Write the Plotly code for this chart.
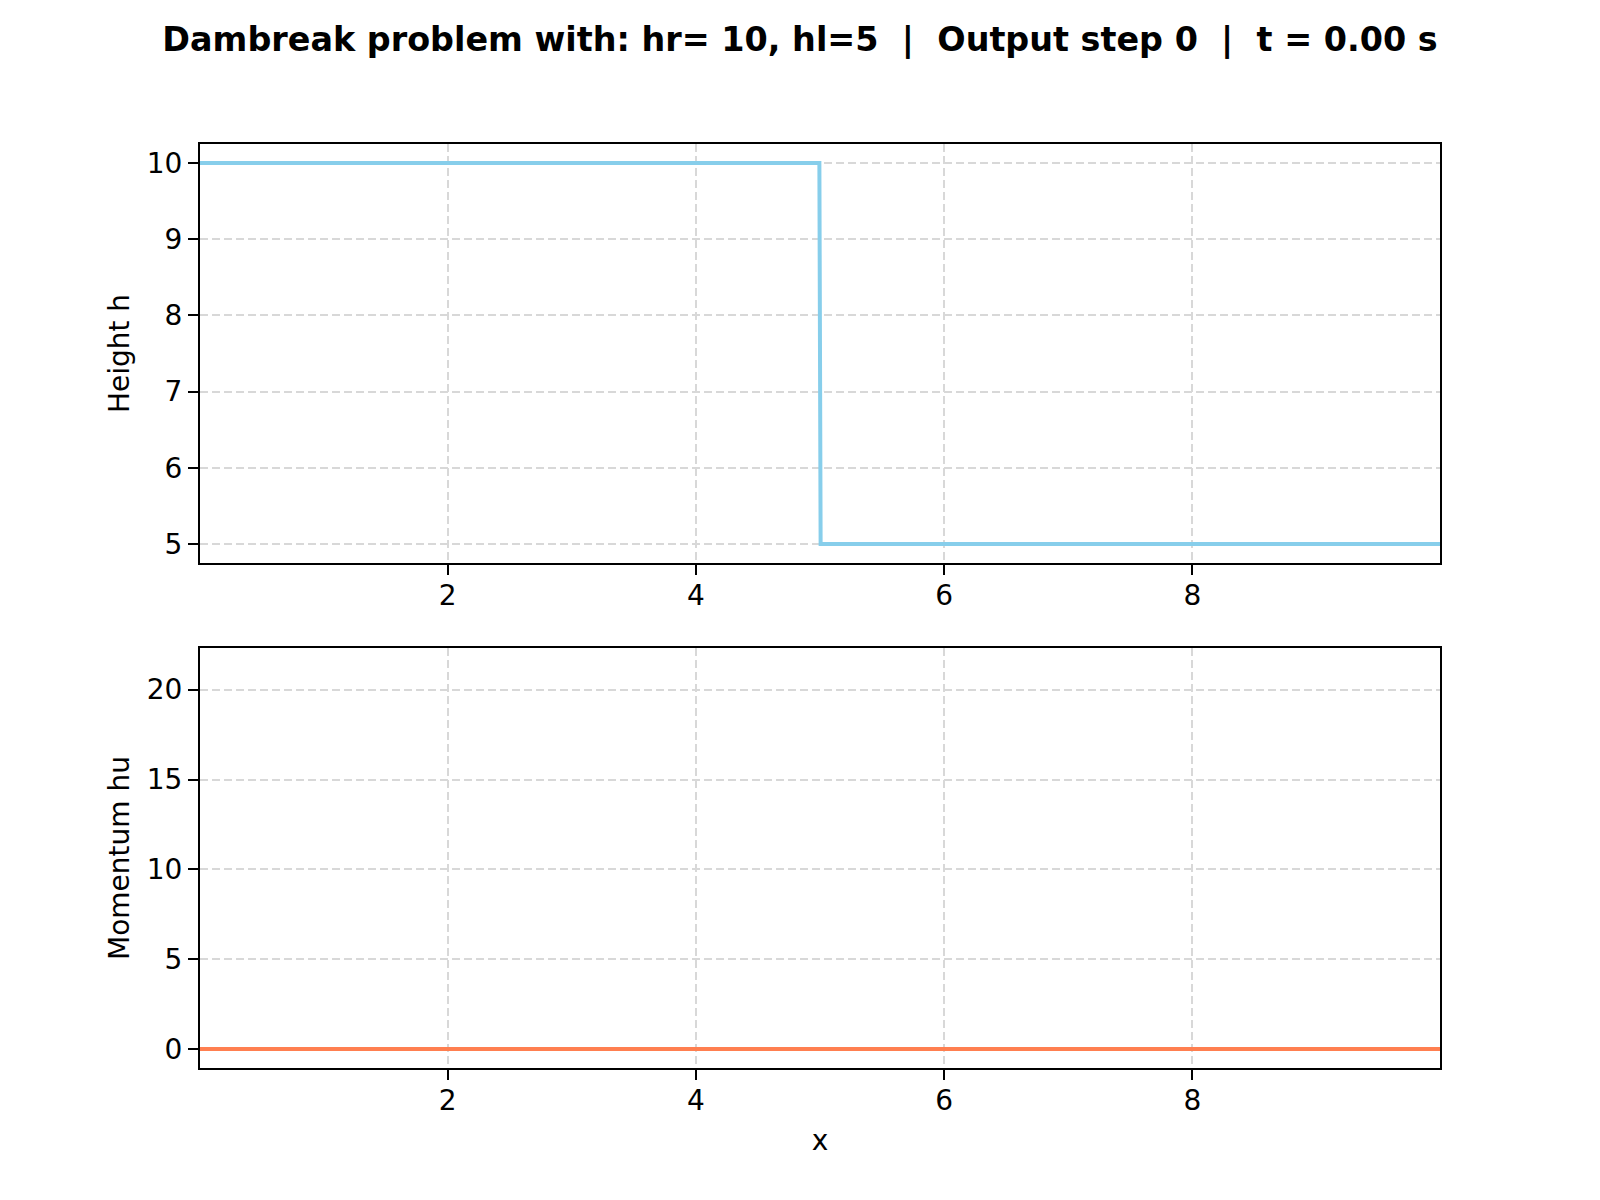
import plotly.graph_objects as go

# Data (output step 0, t = 0)
x_height = [0.005, 4.995, 5.005, 9.995]
h_values = [10, 10, 5, 5]
x_momentum = [0.005, 9.995]
hu_values = [0, 0]

x_ticks = [2, 4, 6, 8]
h_ticks = [5, 6, 7, 8, 9, 10]
hu_ticks = [0, 5, 10, 15, 20]

title_text = ("Dambreak problem with: hr= 10, hl=5\u00a0\u00a0|\u00a0\u00a0Output step 0"
              "\u00a0\u00a0|\u00a0\u00a0t = 0.00 s")

FONT = "DejaVu Sans"
OFF = 8  # default page body margin
W, H = 1600 - OFF, 1200 - OFF
ml, mr, mt, mb = 200 - OFF, 160, 144 - OFF, 132
ph = H - mt - mb
# plot edges in page pixels: top 144..563, bottom 648..1068
top_dom = [(1068 - 563) / ph, 1.0]
bot_dom = [0.0, (1068 - 648) / ph]

fig = go.Figure()
fig.add_trace(go.Scatter(x=x_height, y=h_values, mode="lines",
                         line=dict(color="#87CEEB", width=4),
                         xaxis="x", yaxis="y", showlegend=False))
fig.add_trace(go.Scatter(x=x_momentum, y=hu_values, mode="lines",
                         line=dict(color="#FF7F50", width=4),
                         xaxis="x2", yaxis="y2", showlegend=False))

axis_common = dict(
    showline=True, linecolor="black", linewidth=2, mirror=True,
    ticks="outside", ticklen=10, tickwidth=2, tickcolor="black",
    showgrid=True, gridcolor="#d8d8d8", gridwidth=2, griddash="8px,4px",
    zeroline=False, tickfont=dict(family=FONT, size=28, color="black"),
)

xr = [0.005, 9.995]
fig.update_layout(
    width=W, height=H,
    paper_bgcolor="white", plot_bgcolor="white",
    margin=dict(l=ml, r=mr, t=mt, b=mb),
    font=dict(family=FONT, color="black"),
    title=dict(text="<b>" + title_text + "</b>", x=(800 - OFF) / W, xanchor="center",
               y=1 - (39 - OFF) / H, yref="container", yanchor="middle",
               font=dict(family=FONT, size=33.4, color="black")),
    xaxis=dict(domain=[0, 1], anchor="y", range=xr, tickvals=x_ticks,
               ticklabelstandoff=-4, **axis_common),
    yaxis=dict(domain=top_dom, anchor="x", range=[4.75, 10.25], tickvals=h_ticks,
               title=dict(text="Height h", standoff=9,
                          font=dict(family=FONT, size=28, color="black")),
               **axis_common),
    xaxis2=dict(domain=[0, 1], anchor="y2", range=xr, tickvals=x_ticks,
                ticklabelstandoff=-4,
                title=dict(text="x", standoff=15,
                           font=dict(family=FONT, size=28, color="black")),
                **axis_common),
    yaxis2=dict(domain=bot_dom, anchor="x2", range=[-1.06, 22.32], tickvals=hu_ticks,
                title=dict(text="Momentum hu", standoff=9,
                           font=dict(family=FONT, size=28, color="black")),
                **axis_common),
)

fig.write_html("out.html")
